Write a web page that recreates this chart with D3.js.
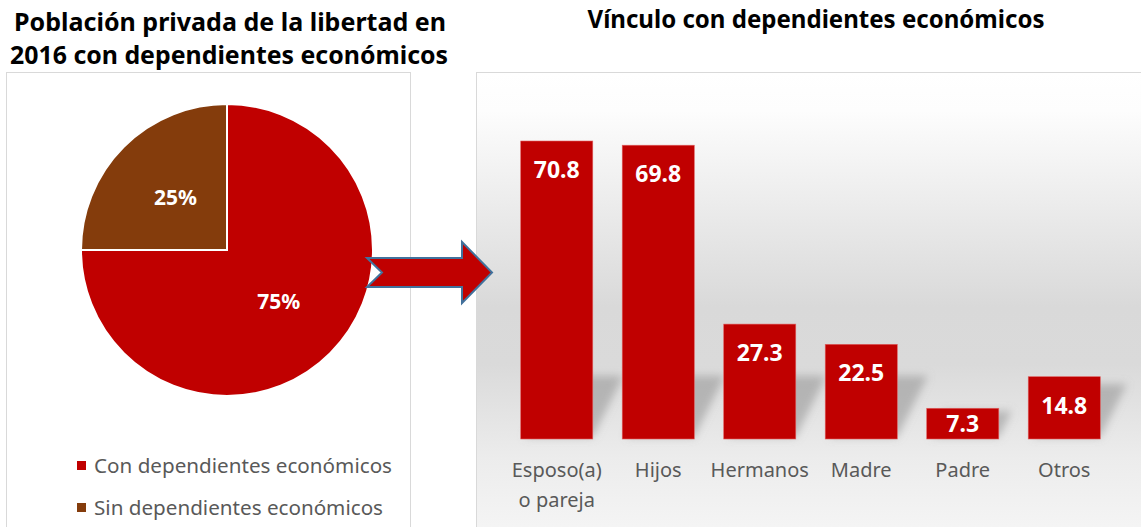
<!DOCTYPE html>
<html>
<head>
<meta charset="utf-8">
<script src="https://cdn.jsdelivr.net/npm/d3@7"></script>
<style>
  body { margin: 0; background: #fff; }
  text { font-family: "Noto Sans", "Open Sans", sans-serif; }
</style>
</head>
<body>
<script>
// pie data
var pieLabels = ["Con dependientes económicos", "Sin dependientes económicos"];
var pieValues = [75, 25];
var pieColors = ["#c00000", "#843c0c"];

// bar data
var categories = ["Esposo(a)\no pareja", "Hijos", "Hermanos", "Madre", "Padre", "Otros"];
var values = [70.8, 69.8, 27.3, 22.5, 7.3, 14.8];

var width = 1141, height = 527;

var svg = d3.select("body").append("svg")
    .attr("width", width)
    .attr("height", height);

var defs = svg.append("defs");

var grad = defs.append("linearGradient")
    .attr("id", "bg")
    .attr("x1", 0).attr("y1", 0).attr("x2", 0).attr("y2", 1);
[[0, "#ffffff"], [0.08, "#fdfdfd"], [0.5, "#d9d9d9"], [0.62, "#dadada"], [0.82, "#ececec"], [1, "#f6f6f6"]]
  .forEach(function(s) {
    grad.append("stop").attr("offset", s[0]).attr("stop-color", s[1]);
  });

defs.append("filter")
    .attr("id", "blur")
    .attr("x", "-50%").attr("y", "-50%").attr("width", "200%").attr("height", "200%")
  .append("feGaussianBlur")
    .attr("stdDeviation", 4);

// ---- titles
function title(txt, x, y, w) {
  svg.append("text")
      .attr("x", x).attr("y", y)
      .attr("text-anchor", "middle")
      .attr("font-size", 25)
      .attr("font-weight", "bold")
      .attr("fill", "#000")
      .attr("textLength", w)
      .attr("lengthAdjust", "spacingAndGlyphs")
      .text(txt);
}
title("Población privada de la libertad en", 230, 31, 432);
title("2016 con dependientes económicos", 229, 64, 438);
title("Vínculo con dependientes económicos", 816, 28, 457);

// ---- left panel
svg.append("rect")
    .attr("x", 6.5).attr("y", 72.5)
    .attr("width", 404).attr("height", 470)
    .attr("fill", "#fff")
    .attr("stroke", "#d9d9d9");

var cx = 227, cy = 250, r = 146;
var pie = d3.pie().sort(null).value(function(d) { return d; });
var arc = d3.arc().innerRadius(0).outerRadius(r);
var arcs = pie(pieValues);

var pg = svg.append("g").attr("transform", "translate(" + cx + "," + cy + ")");
pg.selectAll("path")
  .data(arcs)
  .enter().append("path")
    .attr("d", arc)
    .attr("fill", function(d, i) { return pieColors[i]; })
    .attr("stroke", "#fff")
    .attr("stroke-width", 2);

pg.selectAll("text")
  .data(arcs)
  .enter().append("text")
    .attr("transform", function(d) { var c = arc.centroid(d); return "translate(" + c[0] + "," + (c[1] + 7) + ")"; })
    .attr("text-anchor", "middle")
    .attr("font-size", 21)
    .attr("font-weight", "bold")
    .attr("fill", "#fff")
    .text(function(d) { return d.value + "%"; });

var leg = svg.append("g").selectAll("g")
  .data(pieLabels)
  .enter().append("g")
    .attr("transform", function(d, i) { return "translate(77," + (461 + i * 42) + ")"; });
leg.append("rect")
    .attr("width", 9).attr("height", 9)
    .attr("fill", function(d, i) { return pieColors[i]; });
leg.append("text")
    .attr("x", 17).attr("y", 12)
    .attr("font-size", 19)
    .attr("fill", "#595959")
    .attr("textLength", function(d, i) { return i == 0 ? 298 : 289; })
    .attr("lengthAdjust", "spacingAndGlyphs")
    .text(function(d) { return d; });

// ---- right panel
svg.append("rect")
    .attr("x", 476.5).attr("y", 72.5)
    .attr("width", 700).attr("height", 470)
    .attr("fill", "url(#bg)")
    .attr("stroke", "#d9d9d9");

var x = d3.scaleBand()
    .domain(categories)
    .range([506, 1115])
    .paddingInner(0.29)
    .paddingOuter(0.145);

var y = d3.scaleLinear()
    .domain([0, 70.8])
    .range([439, 141]);

var bw = x.bandwidth();

// skewed shadows behind bars
svg.append("g")
    .attr("filter", "url(#blur)")
  .selectAll("path")
  .data(values)
  .enter().append("path")
    .attr("d", function(d, i) {
      var x0 = x(categories[i]) + 4, x1 = x(categories[i]) + bw, y0 = y(0) - 2;
      var sh = Math.min(y(0) - y(d), 72) * 0.85;
      var dx = sh * 0.5;
      return "M" + x0 + "," + y0 + "L" + x1 + "," + y0 +
             "L" + (x1 + dx) + "," + (y0 - sh) +
             "L" + (x0 + dx) + "," + (y0 - sh) + "Z";
    })
    .attr("fill", "#8a8a8a")
    .attr("opacity", 0.5);

svg.append("g").selectAll("rect")
  .data(values)
  .enter().append("rect")
    .attr("x", function(d, i) { return x(categories[i]); })
    .attr("y", function(d) { return y(d); })
    .attr("width", bw)
    .attr("height", function(d) { return y(0) - y(d); })
    .attr("fill", "#c00000")
    .attr("stroke", "#e06060")
    .attr("stroke-width", 0.6);

svg.append("g").selectAll("text")
  .data(values)
  .enter().append("text")
    .attr("x", function(d, i) { return x(categories[i]) + bw / 2; })
    .attr("y", function(d) { return Math.min(y(d) + 37, y(0) - 7); })
    .attr("text-anchor", "middle")
    .attr("font-size", 23)
    .attr("font-weight", "bold")
    .attr("fill", "#fff")
    .text(function(d) { return d.toFixed(1); });

var xl = svg.append("g").selectAll("text")
  .data(categories)
  .enter().append("text")
    .attr("x", function(d) { return x(d) + bw / 2; })
    .attr("y", 477)
    .attr("text-anchor", "middle")
    .attr("font-size", 20)
    .attr("fill", "#595959");
xl.selectAll("tspan")
  .data(function(d) { return d.split("\n"); })
  .enter().append("tspan")
    .attr("x", function() { return d3.select(this.parentNode).attr("x"); })
    .attr("dy", function(d, i) { return i ? 30 : 0; })
    .text(function(d) { return d; });

// ---- arrow
svg.append("path")
    .attr("d", "M367,258L462,258L462,242L492,272.5L462,303L462,287L367,287L382,272.5Z")
    .attr("fill", "#c00000")
    .attr("stroke", "#41719c")
    .attr("stroke-width", 2)
    .attr("stroke-linejoin", "miter");
</script>
</body>
</html>
